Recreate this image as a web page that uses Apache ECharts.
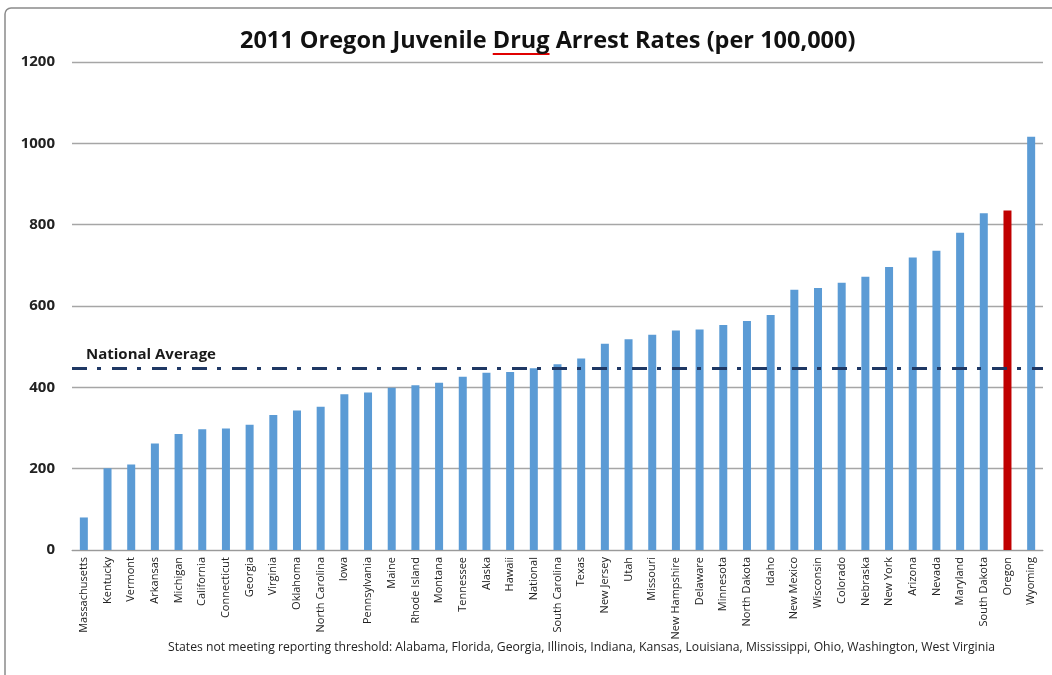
<!DOCTYPE html>
<html>
<head>
<meta charset="utf-8">
<script src="https://cdn.jsdelivr.net/npm/echarts@6/dist/echarts.min.js"></script>
<style>
html,body{margin:0;padding:0;background:#fff;}
#c{width:1052px;height:675px;}
</style>
</head>
<body>
<div id="c"></div>
<script>
const categories = ["Massachusetts","Kentucky","Vermont","Arkansas","Michigan","California","Connecticut","Georgia","Virginia","Oklahoma","North Carolina","Iowa","Pennsylvania","Maine","Rhode Island","Montana","Tennessee","Alaska","Hawaii","National","South Carolina","Texas","New Jersey","Utah","Missouri","New Hampshire","Delaware","Minnesota","North Dakota","Idaho","New Mexico","Wisconsin","Colorado","Nebraska","New York","Arizona","Nevada","Maryland","South Dakota","Oregon","Wyoming"];
const rates = [80,201,210,262,285,297,299,308,332,343,352,383,387,399,405,411,426,436,438,447,457,471,507,518,529,540,542,553,563,578,640,644,657,672,696,719,736,780,828,835,1016];
const highlight = "Oregon";
const nationalAverage = 447;
const yTicks = [0,200,400,600,800,1000,1200];
const titleText = "2011 Oregon Juvenile Drug Arrest Rates (per 100,000)";
const footnote = "States not meeting reporting threshold: Alabama, Florida, Georgia, Illinois, Indiana, Kansas, Louisiana, Mississippi, Ohio, Washington, West Virginia";

const chart = echarts.init(document.getElementById('c'), null, {renderer:'canvas'});
const font = '"Open Sans", Lato, sans-serif';
const titleSize = 23.5;
const titleLeft = 240;
const titleTop = 29;
chart.setOption({
  animation:false,
  backgroundColor:'#fff',
  title:{text:titleText,left:titleLeft,top:titleTop,padding:0,
    textStyle:{fontFamily:font,fontWeight:'bold',fontSize:titleSize,color:'#111'}},
  grid:{left:72,right:9,top:62,bottom:125},
  xAxis:{type:'category',data:categories,
    axisLine:{lineStyle:{color:'#9a9a9a',width:1}},
    axisTick:{show:false},
    axisLabel:{rotate:90,interval:0,fontFamily:font,fontSize:11,color:'#222',margin:7}},
  yAxis:{type:'value',min:yTicks[0],max:yTicks[yTicks.length-1],interval:200,
    axisLine:{show:false},axisTick:{show:false},
    splitLine:{lineStyle:{color:'#a6a6a6',width:1.3}},
    axisLabel:{fontFamily:font,fontWeight:'bold',fontSize:15,color:'#222',margin:17,formatter:v=>String(v)}},
  series:[{type:'bar',barWidth:8,
    data:rates.map((v,i)=>({value:v,itemStyle:{color:categories[i]===highlight?'#C00000':'#5B9BD5'}})),
    markLine:{silent:true,symbol:'none',
      lineStyle:{color:'#1F3864',width:3,type:[15,10,4,11]},
      label:{show:true,position:'insideStartTop',formatter:'National Average',
        fontFamily:font,fontWeight:'bold',fontSize:15,color:'#1a1a1a',distance:[14,6]},
      data:[{yAxis:nationalAverage}]}
  }],
  graphic:[
    {type:'text',left:168,top:642,style:{text:footnote,fontFamily:font,fontSize:12.2,fill:'#222'}},
    {type:'rect',shape:{x:5,y:8,width:1060,height:700,r:6},style:{fill:'none',stroke:'#8a8a8a',lineWidth:1.5},silent:true}
  ]
});
// red underline under "Drug" in the title
(function(){
  const ctx=document.createElement('canvas').getContext('2d');
  ctx.font='bold '+titleSize+'px '+font;
  const pre=ctx.measureText('2011 Oregon Juvenile ').width;
  const w=ctx.measureText('Drug').width;
  const x0=titleLeft+pre;
  const y=titleTop+25;
  chart.setOption({graphic:[{},{},{type:'line',shape:{x1:x0,y1:y,x2:x0+w,y2:y},style:{stroke:'#e00000',lineWidth:2},silent:true}]});
})();
</script>
</body>
</html>
